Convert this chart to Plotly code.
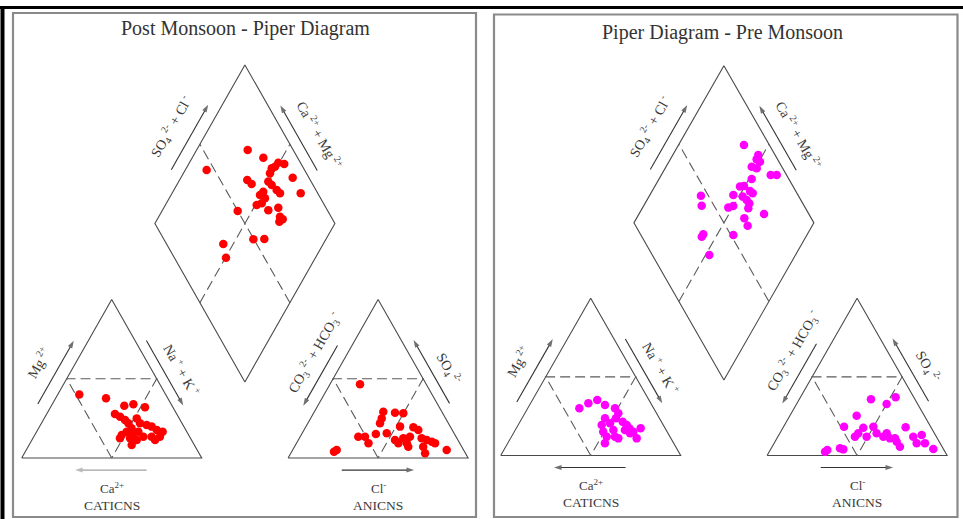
import numpy as np
import plotly.graph_objects as go

# ---------------- data (percent of meq) ----------------
# Post monsoon
post_cat_mg = [40, 37.7, 33, 33.9, 32, 27.8, 26.1, 24, 21.9, 25, 21.9, 18.7, 16.6, 14.5, 12.4, 12.4, 8.2,
               16.6, 13.4, 20.8, 19.8, 17.7, 16.6, 13.4, 11.4, 13.4, 15.6, 11.4]
post_cat_nak = [12, 28, 40.5, 45.1, 52.5, 37.9, 41.6, 45.4, 48.3, 51.4, 54.8, 51.7, 50, 48.3, 48.4, 54, 57,
                56.5, 60.9, 59, 62.3, 66.2, 70, 70.1, 68.4, 65.5, 54.2, 58.2]
post_an_so4 = [46.5, 29.2, 25, 21.9, 28.6, 28.2, 19.8, 13.4, 13.4, 9.3, 15.1, 15.6, 11.4, 9.3, 12.4, 9.3, 7.1,
               19.4, 17.7, 12.4, 11.4, 7.1, 3, 10.3, 9.3, 5, 5, 4, 13.4]
post_an_cl = [16.7, 38.3, 39.5, 40.1, 45.1, 49.9, 52.3, 32.3, 36, 40, 41.2, 47, 53.7, 56.6, 57.8, 61.3, 63.2,
              59.9, 63.5, 68, 71.3, 71.5, 74.6, 74.7, 77, 85.6, 24.5, 23.5, 61]
post_dia_so4cl = [74.7, 81.0, 45.6, 87.7, 90.6, 82.3, 84.6, 91.0, 65.0, 66.2, 79.8, 76.2, 77.0, 78.2, 79.0,
                  70.2, 67.4, 69.1, 65.7, 62.4, 90.5, 49.9, 67.2, 73.5, 71.6, 72.3, 69.7, 49.7, 55.9, 31.5, 28.7]
post_dia_camg = [71.6, 60.5, 88.1, 50.6, 46.9, 52.5, 51.2, 37.9, 62.4, 58.7, 51.9, 50.2, 47.2, 42.9, 40.0,
                 49.8, 50.6, 46.8, 47.0, 49.3, 28.5, 57.9, 41.2, 36.4, 32.6, 30.3, 31.4, 40.3, 34.3, 55.5, 49.7]

# Pre monsoon
pre_cat_mg = [30, 33.2, 35.3, 32.1, 30, 26.9, 23.7, 23.7, 19.4, 15.1, 12, 7.8, 12, 10.9, 21.5, 19.4, 17.3,
              15.1, 14.1, 16.2, 17.3, 10.9, 16.2, 20.5]
pre_cat_nak = [28.7, 32.1, 36, 41.9, 48.5, 51.9, 52.2, 46.1, 46.4, 49.4, 52.9, 54, 57.5, 59.9, 57, 60.3, 62.8,
               66.1, 64.8, 60.9, 69.1, 70.1, 54.5, 50.5]
pre_an_so4 = [35.8, 37, 32.8, 25.3, 18.3, 17.7, 18.3, 14.1, 12, 14.1, 12, 10.9, 8.8, 5.6, 17.9, 12, 13, 7.8,
              7.8, 4.1, 4.6, 3.9, 2.4, 3.5, 12, 14.1, 10.9]
pre_an_cl = [39.8, 52.9, 50, 37.1, 33.6, 44.6, 49.9, 43.6, 49.3, 53.8, 58.6, 62.8, 67.6, 71, 68, 75.2, 79.4,
             79.2, 83.8, 90.3, 38.2, 40.4, 31, 31.7, 42.8, 59.4, 65.6]
pre_dia_so4cl = [85.9, 90.7, 88.4, 89.5, 83.3, 85.6, 91.2, 94.6, 79.4, 70.5, 72.9, 74.6, 75.4, 64.1, 68.8,
                 69.9, 70.3, 68.2, 57.3, 60.6, 45.9, 43.1, 75.1, 62.8, 62.3, 33.3, 34.9, 51.4, 31.7]
pre_dia_camg = [63.6, 52.5, 52.0, 49.4, 52.4, 49.1, 39.2, 35.9, 48.5, 52.6, 50.6, 45.6, 43.4, 53.6, 47.9,
                44.6, 42.1, 41.1, 52.4, 50.2, 71.4, 67.8, 30.5, 40.1, 35.9, 57.9, 57.8, 40.9, 47.9]

titles = ["Post Monsoon - Piper Diagram", "Piper Diagram - Pre Monsoon"]

# ---------------- Piper geometry ----------------
G = 48.0                    # gap between triangles (triangle side = 100)
S3 = np.sqrt(3) / 2


def cation_xy(mg, nak):
    mg = np.asarray(mg, float); nak = np.asarray(nak, float)
    return nak + mg / 2, S3 * mg


def anion_xy(so4, cl):
    so4 = np.asarray(so4, float); cl = np.asarray(cl, float)
    return 100 + G + cl + so4 / 2, S3 * so4


def diamond_xy(so4cl, camg):
    a = np.asarray(so4cl, float); b = np.asarray(camg, float)
    return 100 + G / 2 + 0.5 * (a - b), S3 * G + S3 * (a + b)


def pt(f, *args):
    x, y = f(*args)
    return float(x), float(y)


def side_point(p0, p1, normal, t, d):
    p0 = np.array(p0); p1 = np.array(p1)
    p = p0 + (p1 - p0) * t / 100 + np.array(normal) * d
    return float(p[0]), float(p[1])


W, H = 963, 519
SX = 1.8
panels = [
    dict(xa="x", ya="y", ox=21.7, oy=458.0, sy=1.83, dom=[0, 0.5], px=[0, W / 2], color="#ff0000",
         data=(post_cat_mg, post_cat_nak, post_an_so4, post_an_cl, post_dia_so4cl, post_dia_camg),
         title=titles[0], tpos=(245, 28), ca_col="#a0a0a0"),
    dict(xa="x2", ya="y2", ox=500.7, oy=455.5, sy=1.815, dom=[0.5, 1], px=[W / 2, W], color="#ff00ff",
         data=(pre_cat_mg, pre_cat_nak, pre_an_so4, pre_an_cl, pre_dia_so4cl, pre_dia_camg),
         title=titles[1], tpos=(722, 32), ca_col="#333333"),
]

fig = go.Figure()
ann = []
TXT = "#3a3a3a"
FONT = "Liberation Serif"
OUT = "#4a4a4a"
DASH = "#5a5a5a"

for P in panels:
    xa, ya = P["xa"], P["ya"]
    cmg, cnak, aso4, acl, dso4cl, dcamg = P["data"]

    def line(pts, dash=None, color=OUT, width=1.1):
        xs = [p[0] for p in pts]; ys = [p[1] for p in pts]
        fig.add_trace(go.Scatter(x=xs, y=ys, mode="lines", xaxis=xa, yaxis=ya, hoverinfo="skip",
                                 line=dict(color=color, width=width, dash=dash), showlegend=False))

    # outlines
    c0, c1, c2 = pt(cation_xy, 0, 0), pt(cation_xy, 0, 100), pt(cation_xy, 100, 0)
    a0, a1, a2 = pt(anion_xy, 0, 0), pt(anion_xy, 0, 100), pt(anion_xy, 100, 0)
    B, R, T, L = pt(diamond_xy, 0, 0), pt(diamond_xy, 100, 0), pt(diamond_xy, 100, 100), pt(diamond_xy, 0, 100)
    line([c0, c1, c2, c0])
    line([a0, a1, a2, a0])
    line([B, R, T, L, B])

    # classification lines
    dsh = "10px,5px"
    line([pt(cation_xy, 0, 50), pt(cation_xy, 50, 0), pt(cation_xy, 50, 50), pt(cation_xy, 0, 50)], dash=dsh, color=DASH)
    line([pt(anion_xy, 0, 50), pt(anion_xy, 50, 0), pt(anion_xy, 50, 50), pt(anion_xy, 0, 50)], dash=dsh, color=DASH)
    line([pt(diamond_xy, 50, 0), pt(diamond_xy, 50, 100)], dash=dsh, color=DASH)
    line([pt(diamond_xy, 0, 50), pt(diamond_xy, 100, 50)], dash=dsh, color=DASH)

    # samples
    for f, u, v in ((cation_xy, cmg, cnak), (anion_xy, aso4, acl), (diamond_xy, dso4cl, dcamg)):
        x, y = f(u, v)
        fig.add_trace(go.Scatter(x=x, y=y, mode="markers", xaxis=xa, yaxis=ya, hoverinfo="skip",
                                 marker=dict(size=8.5, color=P["color"], line=dict(width=0)), showlegend=False))

    nL = (-S3, 0.5); nR = (S3, 0.5)

    def arrow(tail, head, color="#333333"):
        fig.add_trace(go.Scatter(x=[tail[0], head[0]], y=[tail[1], head[1]], mode="lines+markers",
                                 xaxis=xa, yaxis=ya, hoverinfo="skip", showlegend=False,
                                 line=dict(color=color, width=1.1),
                                 marker=dict(symbol="arrow", size=[0, 8], angleref="previous",
                                             color=color, line=dict(width=0))))

    def label(pos, text, angle=0, size=14):
        ann.append(dict(x=pos[0], y=pos[1], xref=xa, yref=ya, text=text, showarrow=False, textangle=angle,
                        font=dict(family=FONT, size=size, color=TXT), xanchor="center", yanchor="middle"))

    # cation triangle
    arrow(side_point(c0, c2, nL, 30, 7), side_point(c0, c2, nL, 70, 7))
    label(side_point(c0, c2, nL, 50, 18), "Mg<sup> 2+</sup>", -60)
    arrow(side_point(c1, c2, nR, 71, 5.5), side_point(c1, c2, nR, 30, 5.5))
    label(side_point(c1, c2, nR, 47, 14.5), "Na<sup> +</sup> + K<sup> +</sup>", 60)
    arrow((69.4, -6.6), (29.6, -6.6), P["ca_col"])
    label((50, -16.5), "Ca<sup>2+</sup>", 0, 13)
    label((50, -25.8), "CATICNS", 0, 13.5)

    # anion triangle
    arrow(side_point(a0, a2, nL, 67, 7), side_point(a0, a2, nL, 29, 7))
    label(side_point(a0, a2, nL, 57, 16.5), "CO<sub>3</sub><sup> 2-</sup> + HCO<sub>3</sub><sup> -</sup>", -60)
    arrow(side_point(a1, a2, nR, 31, 6), side_point(a1, a2, nR, 71, 6))
    label(side_point(a1, a2, nR, 48, 15), "SO<sub>4</sub><sup> 2-</sup>", 60)
    arrow((a0[0] + 29.8, -6.6), (a0[0] + 70, -6.6))
    label((a0[0] + 50, -16.5), "Cl<sup>-</sup>", 0, 13)
    label((a0[0] + 50, -25.8), "ANICNS", 0, 13.5)

    # diamond
    arrow(side_point(L, T, nL, 30, 6.8), side_point(L, T, nL, 71, 6.8))
    label(side_point(L, T, nL, 50, 18.5), "SO<sub>4</sub><sup> 2-</sup> + Cl<sup> -</sup>", -60)
    arrow(side_point(R, T, nR, 30, 6), side_point(R, T, nR, 71, 6))
    label(side_point(R, T, nR, 46, 17), "Ca<sup> 2+</sup> + Mg<sup> 2+</sup>", 60)

    # title
    ann.append(dict(x=P["tpos"][0] / W, y=1 - P["tpos"][1] / H, xref="paper", yref="paper", text=P["title"],
                    showarrow=False, xanchor="center", yanchor="middle",
                    font=dict(family=FONT, size=20, color="#333333")))

layout = dict(width=W, height=H, autosize=False, margin=dict(l=0, r=0, t=0, b=0, pad=0),
              paper_bgcolor="white", plot_bgcolor="white", hovermode=False, showlegend=False,
              annotations=ann)
for i, P in enumerate(panels):
    sfx = "" if i == 0 else "2"
    xr = [(P["px"][0] - P["ox"]) / SX, (P["px"][1] - P["ox"]) / SX]
    yr = [(P["oy"] - H) / P["sy"], P["oy"] / P["sy"]]
    layout["xaxis" + sfx] = dict(domain=P["dom"], range=xr, visible=False, fixedrange=True,
                                 anchor="y" + sfx)
    layout["yaxis" + sfx] = dict(domain=[0, 1], range=yr, visible=False, fixedrange=True,
                                 anchor="x" + sfx)


def px_rect(x0, y0, x1, y1, color, width):
    return dict(type="rect", xref="paper", yref="paper", x0=x0 / W, x1=x1 / W, y0=1 - y0 / H, y1=1 - y1 / H,
                line=dict(color=color, width=width), fillcolor="rgba(0,0,0,0)", layer="below")


def px_line(x0, y0, x1, y1, color, width):
    return dict(type="line", xref="paper", yref="paper", x0=x0 / W, x1=x1 / W, y0=1 - y0 / H, y1=1 - y1 / H,
                line=dict(color=color, width=width))


layout["shapes"] = [
    px_line(0, 7.5, W, 7.5, "#000000", 3),
    px_line(2.5, 6, 2.5, H, "#000000", 4),
    px_rect(13, 13, 476, 517, "#8a8a8a", 2.2),
    px_rect(494, 14.5, 957.5, 517, "#8a8a8a", 2.2),
]

fig.update_layout(**layout)
fig.write_html("out.html", config={"displayModeBar": False},
               post_script="document.body.style.margin='0px';document.body.style.padding='0px';")
